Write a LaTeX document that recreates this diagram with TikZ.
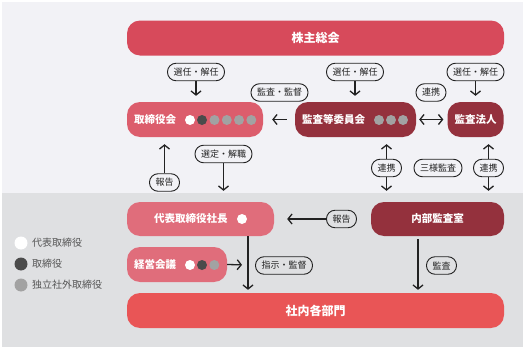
\documentclass[tikz,border=0pt]{standalone}
\usepackage{fontspec}
\setmainfont{Noto Sans CJK JP}
\usetikzlibrary{arrows.meta}
\definecolor{bgtop}{HTML}{F2F2F6}
\definecolor{bgbot}{HTML}{DFE0E2}
\definecolor{cgm}{HTML}{D74A5B}
\definecolor{cboard}{HTML}{DC5D6C}
\definecolor{cdark}{HTML}{94313D}
\definecolor{cpres}{HTML}{E06D7B}
\definecolor{cdept}{HTML}{E95556}
\definecolor{ink}{HTML}{222222}
\definecolor{dotdark}{HTML}{4B4B4B}
\definecolor{dotgray}{HTML}{A2A2A2}
\definecolor{legtext}{HTML}{555555}
\tikzset{
  box/.style={rounded corners=13pt, minimum height=35pt, inner sep=0pt, text=white, font=\bfseries\fontsize{10.5}{12}\selectfont},
  bigbox/.style={box, font=\bfseries\fontsize{12}{14}\selectfont},
  boxtext/.style={anchor=west, inner sep=0pt, text=white, font=\bfseries\fontsize{10.5}{12}\selectfont},
  pill/.style={draw=ink, line width=0.9pt, rounded corners=8.5pt, minimum height=17.5pt, inner xsep=6pt, inner ysep=0pt, font=\fontsize{9}{10}\selectfont, text=ink},
  arr/.style={draw=ink, line width=1.3pt, -{Straight Barb[length=4pt,width=10pt]}},
  darr/.style={draw=ink, line width=1.3pt, {Straight Barb[length=4pt,width=10pt]}-{Straight Barb[length=4pt,width=10pt]}},
  dotw/.style={circle, inner sep=0pt, minimum size=10pt, fill=white},
  dotd/.style={dotw, fill=dotdark},
  dotg/.style={dotw, fill=dotgray},
  leg/.style={circle, inner sep=0pt, minimum size=13pt},
  legt/.style={anchor=west, inner sep=0pt, text=legtext, font=\fontsize{10}{12}\selectfont},
}
\begin{document}
\begin{tikzpicture}[x=1pt,y=-1pt]
\useasboundingbox (0,0) rectangle (523,348);
\fill[white] (0,0) rectangle (523,348);
\fill[bgtop] (1.5,1.5) rectangle (523,193);
\fill[bgbot] (1.5,193) rectangle (523,346.5);

% boxes
\node[bigbox, fill=cgm, minimum width=377pt] (gm) at (315.5,38) {株主総会};
\node[box, fill=cboard, minimum width=136pt] (board) at (195,119.5) {};
\node[box, fill=cdark, minimum width=121pt] (aud) at (355.5,119.5) {};
\node[box, fill=cdark, minimum width=56pt] (audf) at (475.5,119.5) {監査法人};
\node[box, fill=cpres, minimum width=147pt, minimum height=34pt] (pres) at (200.5,219) {};
\node[box, fill=cdark, minimum width=133pt, minimum height=34pt] (ia) at (437.5,219) {内部監査室};
\node[box, fill=cpres, minimum width=100pt] (mm) at (177,264.5) {};
\node[bigbox, fill=cdept, minimum width=377pt] (dept) at (315.5,310.5) {社内各部門};

% box texts and dots
\node[boxtext] (boardt) at (134,119.5) {取締役会};
\node[dotw] (b1) at (190,120) {};
\node[dotd] (b2) at (202,120) {};
\node[dotg] (b3) at (214.5,120) {};
\node[dotg] (b4) at (226.8,120) {};
\node[dotg] (b5) at (239,120) {};
\node[dotg] (b6) at (251.3,120) {};
\node[boxtext] (audt) at (302,119.5) {監査等委員会};
\node[dotg] (a1) at (379,120) {};
\node[dotg] (a2) at (391,120) {};
\node[dotg] (a3) at (403,120) {};
\node[boxtext] (prest) at (154,219) {代表取締役社長};
\node[dotw] (pd) at (242,219) {};
\node[boxtext] (mmt) at (134,264.5) {経営会議};
\node[dotw] (m1) at (190,265) {};
\node[dotd] (m2) at (202,265) {};
\node[dotg] (m3) at (214.3,265) {};

% pills
\node[pill] (p1) at (196,72) {選任・解任};
\node[pill] (p2) at (355,72) {選任・解任};
\node[pill] (p3) at (475.5,72) {選任・解任};
\node[pill] (kk) at (279.5,92.5) {監査・監督};
\node[pill] (c1) at (431,92.5) {連携};
\node[pill] (r1) at (164.5,182.5) {報告};
\node[pill] (s1) at (223.5,154) {選定・解職};
\node[pill] (l1) at (386.5,168) {連携};
\node[pill] (t1) at (438,168) {三様監査};
\node[pill] (l2) at (488.5,168) {連携};
\node[pill] (r2) at (341.5,219) {報告};
\node[pill] (i1) at (284,265.5) {指示・監督};
\node[pill] (k1) at (441.5,265.5) {監査};

% connectors
\draw[arr, shorten >=6pt] (p1.south) -- (p1.south |- board.north);
\draw[arr, shorten >=6pt] (p2.south) -- (p2.south |- aud.north);
\draw[arr, shorten >=6pt] (p3.south) -- (p3.south |- audf.north);
\draw[arr, shorten <=8pt, shorten >=9pt] (aud.west) -- (board.east);
\draw[darr, shorten <=3pt, shorten >=4pt] (aud.east) -- (audf.west);
\draw[arr, shorten >=7pt] (r1.north) -- (r1.north |- board.south);
\draw[arr, shorten >=11pt] (s1.south) -- (s1.south |- pres.north);
\draw[arr, shorten >=7pt] (l1.north) -- (l1.north |- aud.south);
\draw[arr, shorten >=11pt] (l1.south) -- (l1.south |- ia.north);
\draw[arr, shorten >=7pt] (l2.north) -- (l2.north |- audf.south);
\draw[arr, shorten >=11pt] (l2.south) -- (l2.south |- ia.north);
\draw[arr, shorten >=13pt] (r2.west) -- (r2.west -| pres.east);
\coordinate (vx) at (248,265);
\coordinate (iax) at (418,265);
\draw[arr, shorten >=6pt] (mm.east) -- (vx);
\draw[arr, shorten >=3pt] (pres.south -| vx) -- (vx |- dept.north);
\draw[arr, shorten <=3pt, shorten >=3pt] (ia.south -| iax) -- (iax |- dept.north);

% legend
\node[leg, fill=white] (lg1) at (21,243) {};
\node[legt] (lt1) at (32,243) {代表取締役};
\node[leg, fill=dotdark] (lg2) at (21,264) {};
\node[legt] (lt2) at (32,264) {取締役};
\node[leg, fill=dotgray] (lg3) at (21,285) {};
\node[legt] (lt3) at (32,285) {独立社外取締役};
\end{tikzpicture}
\end{document}
